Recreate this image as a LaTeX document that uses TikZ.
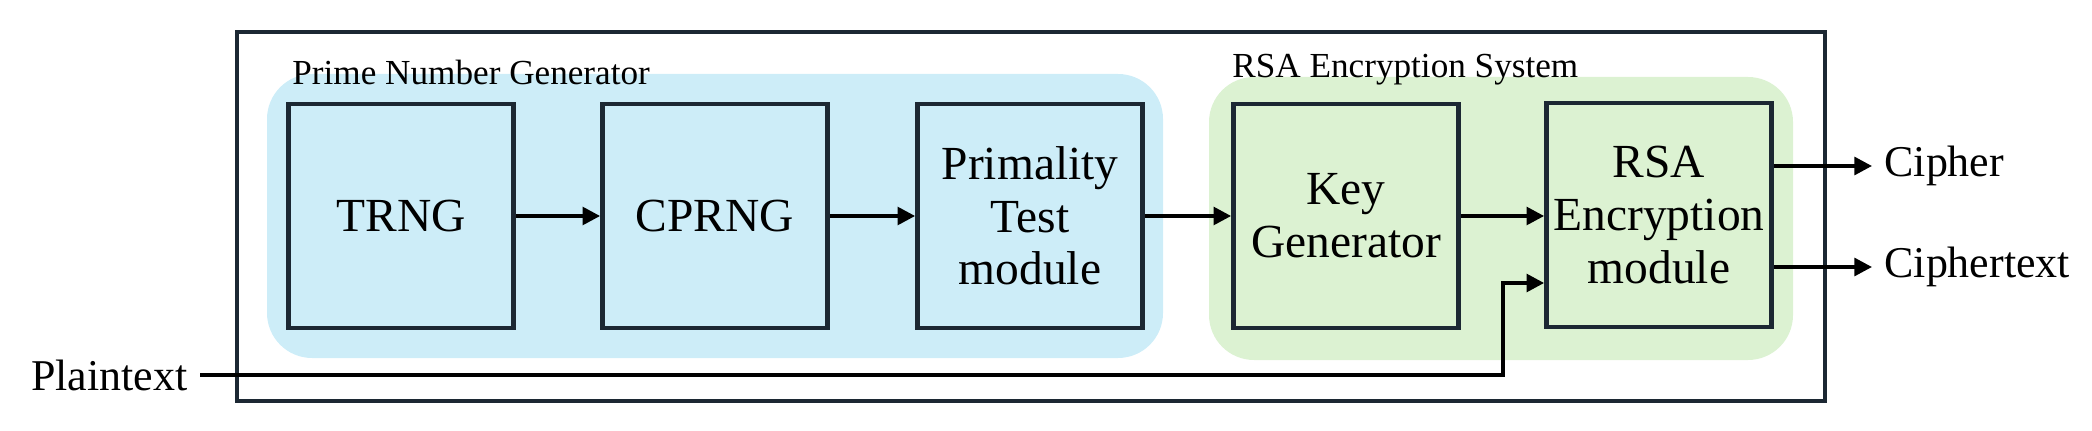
\documentclass[tikz,border=0pt]{standalone}
\usepackage{fontspec}
\setmainfont{Liberation Serif}
\usetikzlibrary{arrows.meta}
\definecolor{bluebg}{HTML}{CDEDF8}
\definecolor{greenbg}{HTML}{DCF2D2}
\definecolor{edge}{HTML}{1C2833}
\begin{document}
\begin{tikzpicture}[x=0.01cm,y=-0.01cm,
  blk/.style={draw=edge,line width=1.3pt,minimum width=2.25cm,minimum height=2.24cm,align=center,font=\fontsize{13.5}{15}\selectfont,inner sep=0pt},
  grp/.style={rounded corners=0.45cm},
  lab/.style={font=\fontsize{10}{12}\selectfont,anchor=west},
  io/.style={font=\fontsize{12.5}{14}\selectfont},
  arr/.style={-{Triangle[length=5pt,width=5pt]},line width=1.1pt}]
\useasboundingbox (0,0) rectangle (2092,431);
\draw[edge,line width=1.2pt] (237,32) rectangle (1825,401);
\fill[bluebg,grp] (267,74) rectangle (1163,358);
\fill[greenbg,grp] (1209,77) rectangle (1793,360);
\node[lab] (pl) at (280,72) {Prime Number Generator};
\node[lab] (rl) at (1220,70) {RSA Encryption System};
\node[blk,fill=bluebg] (trng) at (401,216) {TRNG};
\node[blk,fill=bluebg] (cprng) at (715,216) {CPRNG};
\node[blk,fill=bluebg] (prim) at (1030,216) {Primality\\Test\\module};
\node[blk,fill=greenbg] (key) at (1346,216) {Key\\Generator};
\node[blk,fill=greenbg] (rsa) at (1659,215) {RSA\\Encryption\\module};
\draw[arr] (trng) -- (cprng);
\draw[arr] (cprng) -- (prim);
\draw[arr] (prim) -- (key);
\draw[arr] (key) -- (rsa.west |- key);
\node[io,anchor=west] (ci) at (1872,166) {Cipher};
\node[io,anchor=west] (ct) at (1872,267) {Ciphertext};
\draw[arr] (rsa.east |- ci) -- (ci.west);
\draw[arr] (rsa.east |- ct) -- (ct.west);
\node[io,anchor=east] (pt) at (200,375) {Plaintext};
\draw[arr] (pt.east) -- (1503,375) -- (1503,283) -- (rsa.west |- 0,283);
\end{tikzpicture}
\end{document}
